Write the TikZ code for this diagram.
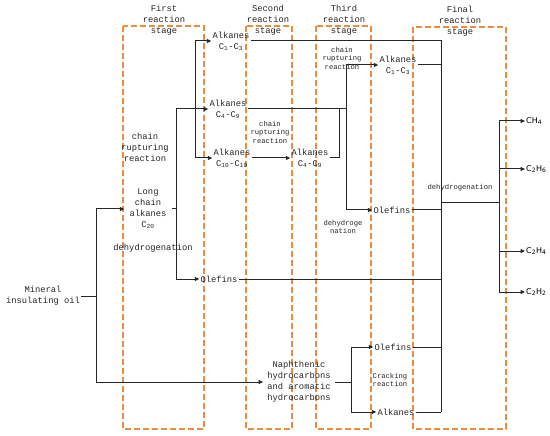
\documentclass[tikz,border=0pt]{standalone}
\usepackage{fontspec}
\usetikzlibrary{arrows.meta}
\newfontfamily\diagfont{Liberation Mono}
\newfontfamily\gasfont{DejaVu Sans}
\definecolor{stageorange}{HTML}{F08A3C}
\definecolor{flowgray}{HTML}{262626}

\begin{document}
\begin{tikzpicture}[x=1pt, y=-1pt,
        lbl/.style={align=center, inner sep=1pt, text=flowgray,
                    font=\diagfont\fontsize{8.8}{11}\selectfont},
        note/.style={lbl, font=\diagfont\fontsize{7.2}{8.5}\selectfont},
        gas/.style={anchor=west, inner sep=1pt, text=black, font=\gasfont\fontsize{8}{9}\selectfont},
        stagebox/.style={draw=stageorange, line width=1.1pt, dash pattern=on 6pt off 3pt},
        flow/.style={draw=flowgray, line width=1pt},
        arrow/.style={flow, -{Triangle[length=4.5pt, width=4pt]}}
      ]
        \useasboundingbox (0,0) rectangle (550,436);

        \draw[stagebox] (123,26) rectangle (204,429);
        \draw[stagebox] (246,26) rectangle (292,429);
        \draw[stagebox] (316,26) rectangle (371,429);
        \draw[stagebox] (413,27) rectangle (506,429);

        \node[lbl] (st1) at (164,20) {First\\reaction\\stage};
        \node[lbl] (st2) at (268,20) {Second\\reaction\\stage};
        \node[lbl] (st3) at (344,20) {Third\\reaction\\stage};
        \node[lbl] (st4) at (460,21) {Final\\reaction\\stage};

        \node[lbl] (oil) at (43,296) {Mineral\\insulating oil};
        \node[lbl, inner xsep=5pt] (longc) at (148,209) {Long\\chain\\alkanes\\C\textsubscript{20}};
        \node[lbl] (crA) at (145,147) {chain\\rupturing\\reaction};
        \node[lbl] (dhA) at (153,248) {dehydrogenation};
        \node[lbl] (alk13a) at (231,41) {Alkanes\\C\textsubscript{1}-C\textsubscript{3}};
        \node[lbl] (alk49a) at (228,109) {Alkanes\\C\textsubscript{4}-C\textsubscript{9}};
        \node[lbl] (alk1019) at (232,158) {Alkanes\\C\textsubscript{10}-C\textsubscript{19}};
        \node[lbl] (olef1) at (219,279) {Olefins};
        \node[note] (crB) at (270,132) {chain\\rupturing\\reaction};
        \node[lbl] (alk49b) at (310,158) {Alkanes\\C\textsubscript{4}-C\textsubscript{9}};
        \node[lbl, inner xsep=4pt] (nap) at (299,382) {Naphthenic\\hydrocarbons\\and aromatic\\hydrocarbons};
        \node[note] (crC) at (342,58) {chain\\rupturing\\reaction};
        \node[lbl] (alk13b) at (398,65) {Alkanes\\C\textsubscript{1}-C\textsubscript{3}};
        \node[lbl] (olefU) at (392,210) {Olefins};
        \node[note] (dhC) at (343,227) {dehydroge\\nation};
        \node[lbl] (olefL) at (393,347) {Olefins};
        \node[note] (ckC) at (390,380) {Cracking\\reaction};
        \node[lbl] (alkL) at (396,412) {Alkanes};
        \node[note] (dhD) at (460,188) {dehydrogenation};
        \node[gas] (ch4) at (525,121) {CH\textsubscript{4}};
        \node[gas] (c2h6) at (525,169) {C\textsubscript{2}H\textsubscript{6}};
        \node[gas] (c2h4) at (525,251) {C\textsubscript{2}H\textsubscript{4}};
        \node[gas] (c2h2) at (525,292) {C\textsubscript{2}H\textsubscript{2}};

        \coordinate (splitA) at (96,296);
        \coordinate (splitB) at (176,209);
        \coordinate (splitC) at (195,109);
        \coordinate (splitD) at (346,109);
        \coordinate (mergeE) at (339,109);
        \coordinate (splitF) at (351,382);
        \coordinate (colTop) at (441,42);
        \coordinate (colBot) at (441,412);
        \coordinate (dehydA) at (441,203);
        \coordinate (splitG) at (499,203);

        \draw[flow] (oil.east) -- (splitA);
        \draw[arrow] (splitA) |- (longc.west);
        \draw[arrow] (splitA) |- (nap.west);
        \draw[flow] (longc.east) -- (splitB);
        \draw[arrow] (splitB) |- (alk49a.west);
        \draw[arrow] (splitB) |- (olef1.west);
        \draw[arrow] (splitC) |- (alk13a.west);
        \draw[arrow] (splitC) |- (alk1019.west);
        \draw[flow] (alk13a.east) -| (colBot);
        \draw[flow] (alk49a.east) -- (splitD);
        \draw[arrow] (splitD) |- (alk13b.west);
        \draw[arrow] (splitD) |- (olefU.west);
        \draw[arrow] (alk1019.east) -- (alk49b.west);
        \draw[flow] (alk49b.east) -| (mergeE);
        \draw[flow] (alk13b.east) -- (alk13b.east -| colTop);
        \draw[flow] (olefU.east) -- (olefU.east -| colTop);
        \draw[flow] (olef1.east) -- (olef1.east -| colTop);
        \draw[flow] (olefL.east) -- (olefL.east -| colTop);
        \draw[flow] (alkL.east) -- (colBot);
        \draw[flow] (nap.east) -- (splitF);
        \draw[arrow] (splitF) |- (olefL.west);
        \draw[arrow] (splitF) |- (alkL.west);
        \draw[flow] (dehydA) -- (splitG);
        \foreach \g in {ch4,c2h6,c2h4,c2h2}
          \draw[arrow] (splitG) |- (\g.west);
      \end{tikzpicture}
\end{document}
